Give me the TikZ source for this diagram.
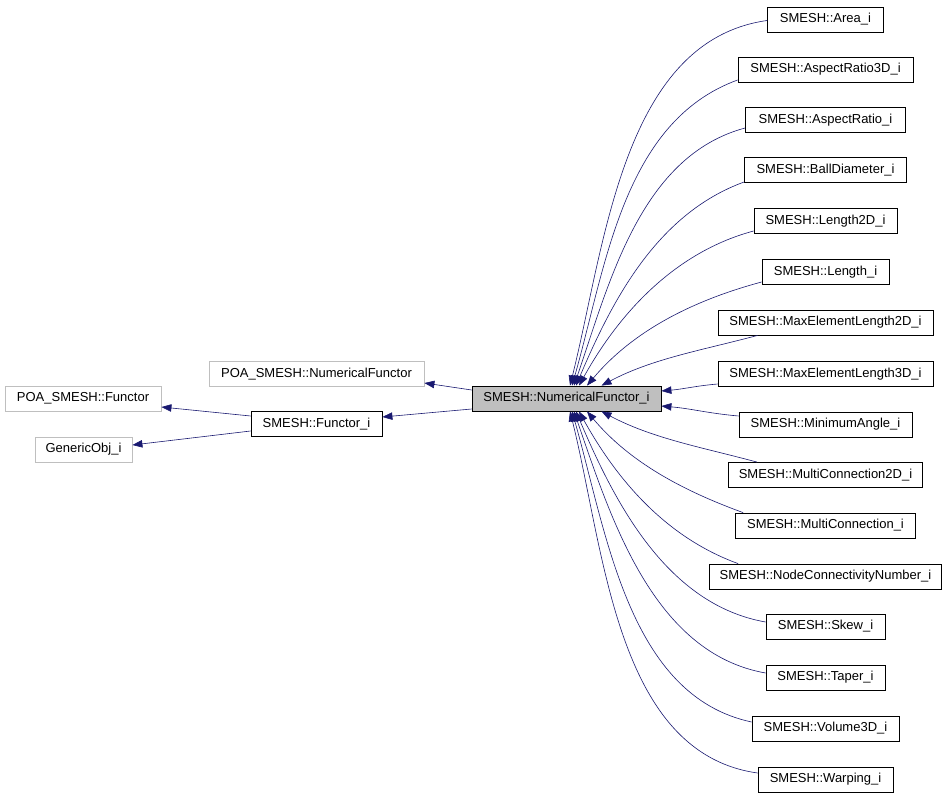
\documentclass[tikz,border=0pt]{standalone}
\usepackage{fontspec}
\setmainfont{Liberation Sans}
\usetikzlibrary{arrows.meta}
\definecolor{edgecol}{HTML}{191970}
\definecolor{greyline}{HTML}{BFBFBF}
\definecolor{greyfill}{HTML}{BFBFBF}
\tikzset{
  box/.style={draw=black, line width=0.8pt, inner sep=0pt, minimum height=25pt, font=\fontsize{13}{15}\selectfont},
  extbox/.style={box, draw=greyline},
  curbox/.style={box, fill=greyfill},
  edge/.style={draw=edgecol, line width=0.6pt, -{Triangle[length=10pt,width=7.5pt]}, fill=none},
}
\begin{document}
\begin{tikzpicture}[x=1pt,y=-1pt]
\useasboundingbox (0,0) rectangle (947,797);
% left part
\node[extbox, minimum width=215pt] (pnf) at (316.5,374) {POA\_SMESH::NumericalFunctor};
\node[extbox, minimum width=156pt] (pf) at (83,398.5) {POA\_SMESH::Functor};
\node[box, minimum width=131pt] (fi) at (316.5,424) {SMESH::Functor\_i};
\node[extbox, minimum width=97pt] (go) at (83.5,449.5) {GenericObj\_i};
\node[curbox, minimum width=189pt] (nfi) at (566.5,398.5) {SMESH::NumericalFunctor\_i};
% right column
\node[box, minimum width=116pt] (area) at (825.5,19.5) {SMESH::Area\_i};
\node[box, minimum width=175pt] (ar3d) at (825.5,69.5) {SMESH::AspectRatio3D\_i};
\node[box, minimum width=160pt] (ar) at (825.5,120) {SMESH::AspectRatio\_i};
\node[box, minimum width=162pt] (bd) at (825.5,170) {SMESH::BallDiameter\_i};
\node[box, minimum width=143pt] (l2d) at (825.5,221) {SMESH::Length2D\_i};
\node[box, minimum width=127pt] (len) at (825.5,272) {SMESH::Length\_i};
\node[box, minimum width=215pt] (me2d) at (825.5,322.5) {SMESH::MaxElementLength2D\_i};
\node[box, minimum width=215pt] (me3d) at (825.5,374) {SMESH::MaxElementLength3D\_i};
\node[box, minimum width=173pt] (mina) at (825.5,424.5) {SMESH::MinimumAngle\_i};
\node[box, minimum width=194pt] (mc2d) at (825.5,475) {SMESH::MultiConnection2D\_i};
\node[box, minimum width=180pt] (mc) at (825.5,525.5) {SMESH::MultiConnection\_i};
\node[box, minimum width=232pt] (ncn) at (825.5,576.5) {SMESH::NodeConnectivityNumber\_i};
\node[box, minimum width=119pt] (skew) at (825.5,626.5) {SMESH::Skew\_i};
\node[box, minimum width=119pt] (taper) at (825.5,677.5) {SMESH::Taper\_i};
\node[box, minimum width=147pt] (vol) at (825.5,728.5) {SMESH::Volume3D\_i};
\node[box, minimum width=135pt] (warp) at (825.5,779.5) {SMESH::Warping\_i};
% left edges
\draw[edge] ([yshift=8.5pt]nfi.west) -- ([yshift=-9pt]pnf.east);
\draw[edge] ([yshift=-10.5pt]nfi.west) -- ([yshift=7pt]fi.east);
\draw[edge] ([yshift=8pt]fi.west) -- ([yshift=-8.5pt]pf.east);
\draw[edge] ([yshift=-7pt]fi.west) -- ([yshift=4.5pt]go.east);
% right edges, upper
\draw[edge] ([yshift=-1pt]area.west) to[out=188,in=76,looseness=0.9] ([xshift=3.5pt]nfi.north);
\draw[edge] ([yshift=-10.5pt]ar3d.west) to[out=200,in=74,looseness=0.9] ([xshift=5.5pt]nfi.north);
\draw[edge] ([yshift=-8pt]ar.west) to[out=195,in=71,looseness=0.9] ([xshift=7.5pt]nfi.north);
\draw[edge] ([yshift=-12pt]bd.west) to[out=200,in=67,looseness=0.9] ([xshift=9.5pt]nfi.north);
\draw[edge] ([yshift=-10pt]l2d.west) to[out=195,in=61,looseness=0.9] ([xshift=12.5pt]nfi.north);
\draw[edge] ([yshift=-10pt]len.west) to[out=195,in=50,looseness=0.9] ([xshift=20.5pt]nfi.north);
\draw[edge] ([xshift=40pt]me2d.south west) to[out=195,in=28,looseness=0.9] ([xshift=35pt]nfi.north);
\draw[edge] ([yshift=-10pt]me3d.west) to[out=185,in=5] ([yshift=7.5pt]nfi.east);
\draw[edge] ([yshift=8.5pt]mina.west) to[out=175,in=-5] ([yshift=-7.5pt]nfi.east);
% right edges, lower
\draw[edge] ([xshift=29pt]mc2d.north west) to[out=165,in=-28,looseness=0.9] ([xshift=35pt]nfi.south);
\draw[edge] ([xshift=8pt]mc.north west) to[out=160,in=-50,looseness=0.9] ([xshift=20.5pt]nfi.south);
\draw[edge] ([xshift=29pt]ncn.north west) to[out=160,in=-61,looseness=0.9] ([xshift=12.5pt]nfi.south);
\draw[edge] ([yshift=4.5pt]skew.west) to[out=170,in=-67,looseness=0.9] ([xshift=9.5pt]nfi.south);
\draw[edge] ([yshift=4.5pt]taper.west) to[out=170,in=-71,looseness=0.9] ([xshift=7.5pt]nfi.south);
\draw[edge] ([yshift=6.5pt]vol.west) to[out=168,in=-74,looseness=0.9] ([xshift=5.5pt]nfi.south);
\draw[edge] ([yshift=6.5pt]warp.west) to[out=172,in=-76,looseness=0.9] ([xshift=3.5pt]nfi.south);
\end{tikzpicture}
\end{document}
